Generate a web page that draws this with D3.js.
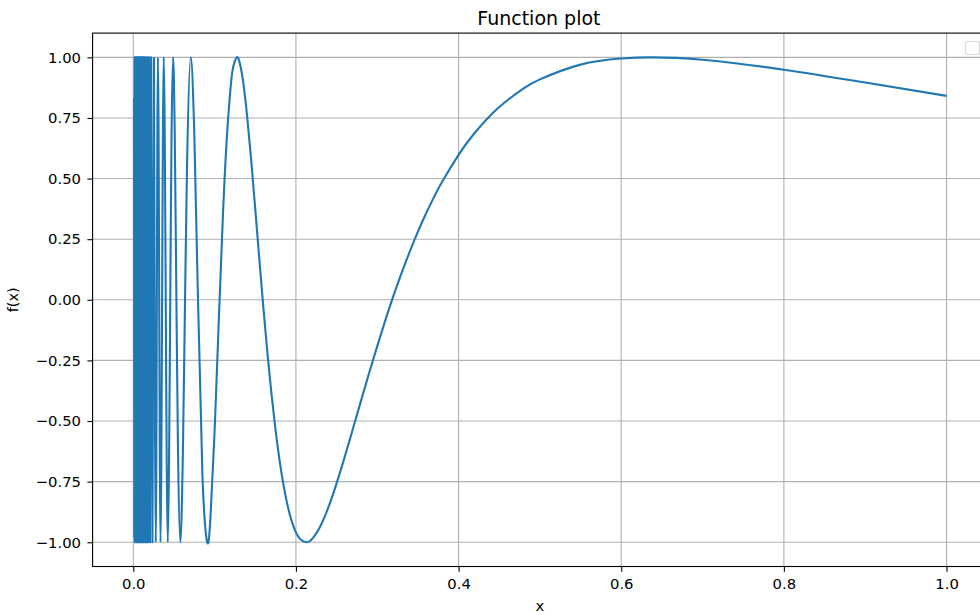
<!DOCTYPE html>
<html>
<head>
<meta charset="utf-8">
<script src="https://cdn.jsdelivr.net/npm/d3@7"></script>
<style>
	body { margin: 0; background: #fff; }
	svg { display: block; font-family: 'DejaVu Sans', sans-serif; }
	.o-grid line { stroke: #b0b0b0; stroke-width: 1.1px; }
	.o-axis path { display: none; }
	.o-axis line { stroke: #000; stroke-width: 1.1px; }
	.o-axis text { fill: #000; font-size: 14.8px; font-family: 'DejaVu Sans', sans-serif; }
	.o-line { fill: none; stroke: #1f77b4; stroke-width: 2.1px; stroke-linejoin: round; }
</style>
</head>
<body>
<div id="chart"></div>
<script>
// dense band near zero
var denseX = [0.001, 0.0013, 0.0016, 0.0019, 0.0022, 0.0025, 0.0028, 0.0031, 0.0034, 0.0037,
	0.004, 0.0043, 0.0046, 0.0049, 0.0052, 0.0055, 0.0058, 0.0061, 0.0064, 0.0067,
	0.007, 0.0073, 0.0076, 0.0079, 0.0082, 0.0085, 0.0088, 0.0091, 0.0094, 0.0097,
	0.010436, 0.01079, 0.011169, 0.011575, 0.012012, 0.012483, 0.012992, 0.013545, 0.014147, 0.014805,
	0.015527, 0.016324, 0.017206, 0.018189, 0.019292, 0.020536, 0.021952, 0.023579, 0.025465];
var denseY = [0.83, -0.98, 1, -1, 0.99, -1, 1, -0.99, 1, -1,
	1, -1, 0.98, -1, 1, -1, 1, -0.99, 1, -1,
	1, -1, 1, -1, 0.99, -1, 1, -1, 1, -0.98,
	1, -1, 1, -1, 1, -1, 1, -1, 1, -1,
	1, -1, 1, -1, 1, -1, 1, -1, 1];

// narrow spikes
var tipX = [0.025465, 0.027679, 0.030315, 0.033506, 0.037448, 0.042441, 0.044, 0.0455, 0.047, 0.048971,
	0.051, 0.0531, 0.055, 0.057875, 0.061, 0.0637, 0.066, 0.070736, 0.075, 0.0796];
var tipY = [1, -1, 1, -1, 1, -1, -0.672, 0.013, 0.655, 1,
	0.687, -0.018, -0.62, -1, -0.633, 0.009, 0.528, 1, 0.694, 0];

// wide arches
var archX = [0.0796, 0.085, 0.090946, 0.095, 0.1, 0.105, 0.11, 0.115, 0.12, 0.123,
	0.127324, 0.131, 0.135, 0.14, 0.145, 0.15, 0.155, 0.16, 0.165, 0.17,
	0.175, 0.18, 0.185, 0.19, 0.195, 0.2, 0.205, 0.212207, 0.22, 0.23,
	0.24, 0.25, 0.26, 0.27, 0.28, 0.29, 0.3, 0.31, 0.32, 0.33,
	0.34, 0.35, 0.36, 0.37, 0.38, 0.4, 0.42, 0.45, 0.48, 0.5,
	0.55, 0.6, 0.6366, 0.7, 0.8, 0.9, 1.0];
var archY = [0, -0.718, -1, -0.892, -0.544, -0.099, 0.328, 0.666, 0.887, 0.962,
	1, 0.976, 0.902, 0.758, 0.576, 0.374, 0.168, -0.033, -0.221, -0.39,
	-0.539, -0.665, -0.769, -0.852, -0.915, -0.959, -0.986, -1, -0.986, -0.934,
	-0.855, -0.757, -0.648, -0.533, -0.417, -0.302, -0.191, -0.084, 0.017, 0.111,
	0.199, 0.281, 0.356, 0.425, 0.488, 0.598, 0.689, 0.795, 0.872, 0.909,
	0.97, 0.995, 1, 0.99, 0.949, 0.896, 0.841];

var xTicks = [0, 0.2, 0.4, 0.6, 0.8, 1.0];
var yTicks = [-1, -0.75, -0.5, -0.25, 0, 0.25, 0.5, 0.75, 1];
var titleText = 'Function plot';
var xLabel = 'x';
var yLabel = 'f(x)';

var chart = {
	width: 980,
	height: 615,
	left: 92.6,
	right: 987.2,
	top: 33.1,
	bottom: 566.5
};

function toPoints(xs, ys) {
	var arr = [];
	for (var i = 0; i < xs.length; i++) {
		arr.push({x: xs[i], y: ys[i]});
	}
	return arr;
}

var svg = d3.select('#chart').append('svg')
	.attr('width', chart.width)
	.attr('height', chart.height);

var x = d3.scaleLinear().domain([-0.05, 1.05]).range([chart.left, chart.right]);
var y = d3.scaleLinear().domain([-1.1, 1.1]).range([chart.bottom, chart.top]);

// grid
var grid = svg.append('g').attr('class', 'o-grid');
grid.selectAll('.gx').data(xTicks).enter().append('line')
	.attr('x1', function(d) { return x(d); })
	.attr('x2', function(d) { return x(d); })
	.attr('y1', chart.top)
	.attr('y2', chart.bottom);
grid.selectAll('.gy').data(yTicks).enter().append('line')
	.attr('x1', chart.left)
	.attr('x2', chart.right)
	.attr('y1', function(d) { return y(d); })
	.attr('y2', function(d) { return y(d); });

// curve, three pieces with their own interpolation
svg.append('clipPath').attr('id', 'plotClip')
	.append('rect')
	.attr('x', chart.left)
	.attr('y', chart.top)
	.attr('width', chart.right - chart.left)
	.attr('height', chart.bottom - chart.top);

function addCurve(data, curve) {
	var line = d3.line()
		.curve(curve)
		.x(function(d) { return x(d.x); })
		.y(function(d) { return y(d.y); });
	svg.append('path')
		.datum(data)
		.attr('class', 'o-line')
		.attr('clip-path', 'url(#plotClip)')
		.attr('d', line);
}
addCurve(toPoints(denseX, denseY), d3.curveLinear);
addCurve(toPoints(tipX, tipY), d3.curveMonotoneX);
addCurve(toPoints(archX, archY), d3.curveNatural);

// axes
svg.append('g')
	.attr('class', 'o-axis')
	.attr('transform', 'translate(0,' + chart.bottom + ')')
	.call(d3.axisBottom(x).tickValues(xTicks).tickFormat(d3.format('.1f')).tickSize(5.2).tickPadding(7.2))
	.selectAll('text').attr('dy', '0.71em');

svg.append('g')
	.attr('class', 'o-axis')
	.attr('transform', 'translate(' + chart.left + ',0)')
	.call(d3.axisLeft(y).tickValues(yTicks).tickFormat(d3.format('.2f')).tickSize(5.2).tickPadding(6.4));

// frame
svg.append('rect')
	.attr('x', chart.left)
	.attr('y', chart.top)
	.attr('width', chart.right - chart.left)
	.attr('height', chart.bottom - chart.top)
	.attr('fill', 'none')
	.attr('stroke', '#000')
	.attr('stroke-width', 1.1);

// empty legend box
svg.append('rect')
	.attr('x', 965.5)
	.attr('y', 41.5)
	.attr('width', 14)
	.attr('height', 13)
	.attr('rx', 2.5)
	.attr('fill', '#fff')
	.attr('fill-opacity', 0.8)
	.attr('stroke', '#d6d6d6')
	.attr('stroke-width', 1.1);

// labels
svg.append('text')
	.attr('x', (chart.left + chart.right) / 2 - 1)
	.attr('y', 25)
	.attr('text-anchor', 'middle')
	.style('font-size', '19px')
	.text(titleText);

svg.append('text')
	.attr('x', (chart.left + chart.right) / 2)
	.attr('y', 610.5)
	.attr('text-anchor', 'middle')
	.style('font-size', '14.8px')
	.text(xLabel);

svg.append('text')
	.attr('transform', 'translate(17.5,' + ((chart.top + chart.bottom) / 2) + ') rotate(-90)')
	.attr('text-anchor', 'middle')
	.style('font-size', '14.5px')
	.text(yLabel);
</script>
</body>
</html>
